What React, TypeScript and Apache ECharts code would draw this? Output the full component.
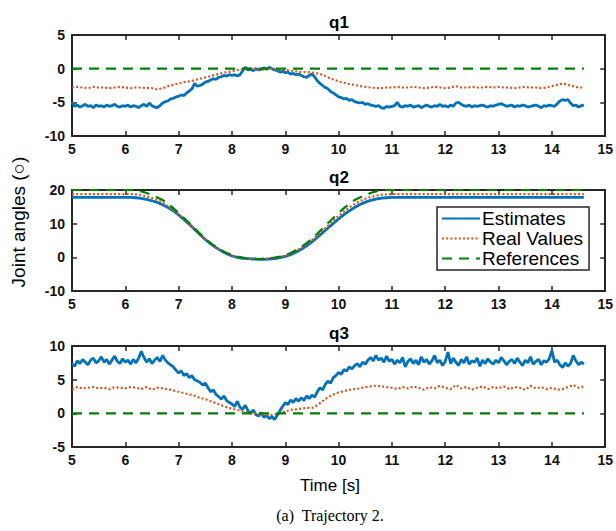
import React, { useEffect, useRef } from "react";
import * as echarts from "echarts";

// ---------- data ----------
const T_START = 5;
const FINE_STEP = 0.05; // sample spacing of the noisy estimate traces
const STEP = 0.1; // sample spacing of the other traces
const T_END = 14.6;

const seriesNames = ["Estimates", "Real Values", "References"];
const subplotTitles = ["q1", "q2", "q3"];
const xTickRange = [5, 15, 1];
const yRanges = [
  [-10, 5, 5],
  [-10, 20, 10],
  [-5, 10, 5],
];

// q1
const q1Estimates = [
  -5.0, -5.6, -5.4, -5.7, -5.5, -5.3, -5.6, -5.5, -5.8, -5.4, -5.6, -5.5, -5.7, -5.4, -5.6, -5.5, -5.3, -5.6, -5.7, -5.5,
  -5.6, -5.4, -5.7, -5.5, -5.6, -5.8, -5.5, -5.3, -5.6, -5.1, -5.5, -5.7, -5.8, -5.5, -5.1, -4.9, -4.8, -4.5, -4.4, -4.2,
  -4.1, -3.9, -4.0, -3.6, -3.3, -3.0, -2.2, -2.6, -2.5, -2.3, -2.0, -1.9, -1.7, -1.5, -1.6, -1.3, -1.2, -1.0, -1.1, -0.9,
  -1.0, -0.9, -1.1, -0.9, -0.3, 0.2, -0.2, -0.1, -0.3, 0.0, -0.2, -0.1, 0.1, -0.1, 0.2, 0.0, -0.2, -0.3, -0.5, -0.4,
  -0.6, -0.5, -0.8, -0.7, -0.9, -0.8, -1.0, -1.2, -1.3, -1.0, -0.8, -1.2, -1.8, -2.2, -2.5, -2.8, -3.0, -3.4, -3.6, -3.9,
  -4.2, -4.3, -4.5, -4.4, -4.7, -4.6, -4.9, -5.0, -5.1, -5.0, -5.3, -5.2, -5.4, -5.5, -5.6, -5.5, -5.8, -5.9, -5.6, -5.7,
  -5.6, -5.5, -5.0, -5.6, -5.7, -5.5, -5.6, -5.4, -5.7, -5.6, -5.5, -5.8, -5.6, -5.4, -5.6, -5.7, -5.5, -5.6, -5.3, -5.6,
  -5.5, -5.7, -5.4, -5.6, -5.1, -5.0, -5.3, -5.5, -5.6, -5.4, -5.7, -5.5, -5.6, -5.5, -5.4, -5.6, -5.7, -5.5, -5.6, -5.4,
  -5.3, -5.2, -5.4, -5.6, -5.5, -5.4, -5.7, -5.5, -5.6, -5.4, -5.5, -5.7, -5.6, -5.5, -5.4, -5.6, -5.8, -5.5, -5.6, -5.4,
  -5.5, -5.6, -5.2, -4.8, -4.6, -4.7, -4.6, -5.1, -5.5, -5.4, -5.7, -5.5, -5.4,
];
const q1Real = [
  -2.8, -2.7, -2.8, -2.9, -2.7, -2.8, -2.8, -2.9, -2.8, -2.7,
  -2.8, -2.9, -2.8, -2.8, -2.9, -2.9, -3.1, -2.9, -2.6, -2.4,
  -2.2, -2.0, -1.9, -1.7, -1.5, -1.3, -1.1, -0.9, -0.7, -0.5,
  -0.4, -0.2, -0.1, 0.0, 0.0, -0.1, -0.1, 0.0, -0.1, -0.2,
  -0.2, -0.3, -0.4, -0.5, -0.5, -0.6, -0.7, -0.9, -1.3, -1.6,
  -1.9, -2.1, -2.3, -2.4, -2.6, -2.7, -2.8, -2.9, -2.9, -2.8,
  -2.8, -2.7, -2.8, -2.8, -2.7, -2.8, -2.9, -2.8, -2.7, -2.8,
  -2.9, -2.8, -2.6, -2.8, -2.8, -2.7, -2.8, -2.8, -2.7, -2.8,
  -2.7, -2.8, -2.8, -2.9, -2.8, -2.7, -2.8, -2.8, -2.9, -2.8,
  -2.6, -2.4, -2.2, -2.4, -2.6, -2.8, -2.8,
];
const q1Reference = [0, 0];

// q2
const q2Estimates = [
  17.8, 17.8, 17.8, 17.8, 17.8, 17.8, 17.8, 17.8, 17.8, 17.8,
  17.8, 17.8, 17.7, 17.5, 17.2, 16.8, 16.3, 15.6, 14.8, 13.8,
  12.6, 11.2, 9.8, 8.3, 6.8, 5.3, 4.0, 2.9, 1.9, 1.1,
  0.4, 0.0, -0.3, -0.4, -0.5, -0.6, -0.6, -0.5, -0.4, -0.1,
  0.3, 0.8, 1.5, 2.4, 3.4, 4.6, 5.9, 7.3, 8.7, 10.1,
  11.4, 12.7, 13.8, 14.8, 15.7, 16.4, 16.9, 17.3, 17.6, 17.7,
  17.8, 17.8, 17.8, 17.8, 17.8, 17.8, 17.8, 17.8, 17.8, 17.8,
  17.8, 17.8, 17.8, 17.8, 17.8, 17.8, 17.8, 17.8, 17.8, 17.8,
  17.8, 17.8, 17.8, 17.8, 17.8, 17.8, 17.8, 17.8, 17.8, 17.8,
  17.8, 17.8, 17.8, 17.8, 17.8, 17.8, 17.8,
];
const q2Real = [
  18.8, 18.8, 18.8, 18.8, 18.8, 18.8, 18.8, 18.8, 18.8, 18.8,
  18.8, 18.8, 18.7, 18.5, 18.1, 17.6, 17.0, 16.2, 15.2, 14.0,
  12.7, 11.3, 9.8, 8.3, 6.8, 5.3, 4.0, 2.9, 2.0, 1.2,
  0.6, 0.1, -0.2, -0.4, -0.5, -0.5, -0.5, -0.4, -0.2, 0.1,
  0.5, 1.1, 1.9, 2.8, 3.9, 5.1, 6.5, 7.9, 9.4, 10.9,
  12.3, 13.6, 14.8, 15.8, 16.7, 17.4, 17.9, 18.3, 18.6, 18.7,
  18.8, 18.8, 18.8, 18.8, 18.8, 18.8, 18.8, 18.8, 18.8, 18.8,
  18.8, 18.8, 18.8, 18.8, 18.8, 18.8, 18.8, 18.8, 18.8, 18.8,
  18.8, 18.8, 18.8, 18.8, 18.8, 18.8, 18.8, 18.8, 18.8, 18.8,
  18.8, 18.8, 18.8, 18.8, 18.8, 18.8, 18.8,
];
const q2Reference = [
  20, 20, 20, 20, 20, 20, 20, 20, 20, 20,
  20, 20, 19.9, 19.6, 19.1, 18.5, 17.8, 17.0, 15.9, 14.6,
  13.2, 11.7, 10.2, 8.6, 7.0, 5.5, 4.2, 3.1, 2.1, 1.3,
  0.7, 0.2, -0.1, -0.3, -0.4, -0.5, -0.4, -0.3, -0.1, 0.2,
  0.7, 1.3, 2.1, 3.1, 4.2, 5.5, 7.0, 8.6, 10.2, 11.7,
  13.2, 14.6, 15.9, 17.0, 17.8, 18.5, 19.1, 19.6, 19.9, 20,
  20, 20, 20, 20, 20, 20, 20, 20, 20, 20,
  20, 20, 20, 20, 20, 20, 20, 20, 20, 20,
  20, 20, 20, 20, 20, 20, 20, 20, 20, 20,
  20, 20, 20, 20, 20, 20, 20,
];

// q3
const q3Estimates = [
  7.3, 7.0, 7.8, 7.4, 8.0, 7.6, 7.2, 7.9, 8.2, 7.5, 7.8, 8.4, 7.6, 8.0, 7.3, 7.9, 8.5, 7.7, 7.4, 8.1,
  7.6, 7.9, 7.3, 8.0, 7.5, 8.2, 9.2, 8.3, 7.6, 8.1, 7.4, 7.9, 8.3, 7.7, 8.6, 7.9, 7.5, 7.2, 6.9, 6.4,
  6.0, 6.3, 5.6, 5.9, 5.3, 5.6, 5.0, 4.8, 4.6, 4.2, 4.5, 3.8, 3.2, 3.5, 2.8, 2.5, 2.1, 2.6, 1.9, 1.6,
  1.4, 1.0, 1.8, 0.9, 0.6, 1.2, 0.4, 0.0, 0.5, -0.2, -0.4, 0.1, -0.6, -0.3, -0.8, -0.5, -0.9, -0.3, 0.4, 1.0,
  1.6, 1.3, 2.0, 1.6, 2.2, 1.8, 2.3, 1.9, 2.6, 2.2, 2.7, 2.4, 3.2, 3.8, 3.5, 4.3, 4.8, 4.5, 5.3, 5.6,
  6.1, 5.8, 6.5, 6.3, 6.9, 6.6, 7.1, 7.4, 6.9, 7.6, 7.3, 7.9, 8.3, 7.8, 8.6, 7.9, 8.2, 7.6, 8.5, 7.7,
  8.0, 7.3, 7.9, 7.5, 8.3, 6.9, 7.7, 8.1, 7.4, 7.9, 7.2, 8.4, 7.6, 8.0, 7.3, 7.8, 8.6, 7.5, 7.9, 7.1,
  7.7, 9.1, 7.4, 8.2, 7.6, 7.1, 8.0, 7.5, 8.4, 7.3, 7.8, 7.6, 8.2, 7.0, 7.9, 7.4, 8.1, 7.6, 7.3, 7.9,
  7.5, 8.3, 7.8, 7.2, 7.7, 8.0, 7.4, 8.2, 7.6, 7.1, 7.9, 7.5, 8.4, 7.3, 7.7, 8.0, 7.2, 7.8, 7.6, 8.1,
  9.3, 7.6, 7.9, 7.2, 6.8, 7.5, 7.0, 7.4, 8.6, 7.8, 7.2, 7.6, 7.3,
];
const q3Real = [
  3.5, 3.9, 3.7, 3.8, 3.9, 3.7, 3.8, 3.6, 3.9, 3.8,
  3.7, 3.9, 3.8, 3.6, 3.9, 3.5, 3.8, 3.7, 3.6, 3.4,
  3.2, 3.0, 2.8, 2.6, 2.3, 2.1, 1.8, 1.5, 1.2, 0.9,
  0.7, 0.5, 0.3, 0.1, 0.0, -0.1, -0.2, -0.3, -0.2, 0.0,
  0.3, 0.5, 0.6, 0.7, 0.8, 0.8, 1.2, 1.8, 2.4, 2.8,
  3.1, 3.3, 3.5, 3.6, 3.7, 3.9, 4.0, 4.1, 4.0, 3.9,
  3.8, 3.6, 3.9, 3.7, 4.0, 3.8, 3.5, 3.9, 3.7, 4.1,
  3.8, 3.6, 4.2, 3.7, 3.9, 3.5, 3.8, 4.0, 3.6, 3.9,
  3.7, 4.0, 3.6, 3.9, 3.8, 3.5, 4.1, 3.7, 3.9, 3.6,
  3.8, 3.5, 3.6, 3.9, 4.2, 3.8, 4.0,
];
const q3Reference = [0, 0];

// ---------- styling ----------
const SANS = "'Liberation Sans', Arial, Helvetica, sans-serif";
const SERIF = "'Liberation Serif', 'Times New Roman', serif";
const AXIS_COLOR = "#262626";
const COLORS = ["#0072BD", "#D95319", "#008000"];
const GRID_TOPS = [35, 190, 346];
const GRID_LEFT = 72;
const GRID_W = 534;
const GRID_H = 101;

function sampled(values: number[], step: number) {
  return values.map((v, i) => [Number((T_START + i * step).toFixed(2)), v]);
}
function flat(values: number[]) {
  return [
    [T_START, values[0]],
    [T_END, values[1]],
  ];
}

export default function App() {
  const ref = useRef<HTMLDivElement>(null);

  useEffect(() => {
    if (!ref.current) return;
    const chart = echarts.init(ref.current, undefined, { renderer: "svg" });

    const estimates = [q1Estimates, q2Estimates, q3Estimates];
    const reals = [q1Real, q2Real, q3Real];
    const refs = [q1Reference, q2Reference, q3Reference];

    const axisLine = { show: true, onZero: false, lineStyle: { color: AXIS_COLOR, width: 2 } };
    const axisTick = { show: true, inside: true, length: 5, lineStyle: { color: AXIS_COLOR, width: 1.5 } };
    const labelStyle = { fontSize: 14, fontWeight: "bold", color: "#111", fontFamily: SANS };

    const xAxis: any[] = [];
    const yAxis: any[] = [];
    const series: any[] = [];
    for (let i = 0; i < 3; i++) {
      xAxis.push({
        type: "value", gridIndex: i, position: "bottom",
        min: xTickRange[0], max: xTickRange[1], interval: xTickRange[2],
        axisLine, axisTick, splitLine: { show: false },
        axisLabel: { ...labelStyle, margin: 6 },
      });
      xAxis.push({
        type: "value", gridIndex: i, position: "top",
        min: xTickRange[0], max: xTickRange[1], interval: xTickRange[2],
        axisLine, axisTick, splitLine: { show: false },
        axisLabel: { show: false },
      });
      const [ymin, ymax, yint] = yRanges[i];
      yAxis.push({
        type: "value", gridIndex: i, position: "left",
        min: ymin, max: ymax, interval: yint,
        axisLine, axisTick, splitLine: { show: false },
        axisLabel: { ...labelStyle, margin: 7 },
      });
      yAxis.push({
        type: "value", gridIndex: i, position: "right",
        min: ymin, max: ymax, interval: yint,
        axisLine, axisTick, splitLine: { show: false },
        axisLabel: { show: false },
      });
      series.push({
        name: seriesNames[0], type: "line", xAxisIndex: 2 * i, yAxisIndex: 2 * i,
        data: sampled(estimates[i], i === 1 ? STEP : FINE_STEP),
        symbol: "none", color: COLORS[0],
        lineStyle: { color: COLORS[0], width: 2.8 },
      });
      series.push({
        name: seriesNames[1], type: "line", xAxisIndex: 2 * i, yAxisIndex: 2 * i,
        data: sampled(reals[i], STEP),
        symbol: "none", color: COLORS[1],
        lineStyle: { color: COLORS[1], width: 2.2, type: [2, 2.2] },
      });
      series.push({
        name: seriesNames[2], type: "line", xAxisIndex: 2 * i, yAxisIndex: 2 * i,
        data: refs[i].length === 2 ? flat(refs[i]) : sampled(refs[i], STEP),
        symbol: "none", color: COLORS[2],
        lineStyle: { color: COLORS[2], width: 2.2, type: [10, 7] },
      });
    }

    const centerX = GRID_LEFT + GRID_W / 2;
    const graphics: any[] = subplotTitles.map((t, i) => ({
      type: "text", x: centerX, y: GRID_TOPS[i] - 13,
      style: { text: t, fontSize: 17, fontWeight: "bold", fontFamily: SANS, fill: "#000", align: "center", verticalAlign: "middle" },
    }));
    graphics.push({
      type: "text", x: 330, y: 485,
      style: { text: "Time [s]", fontSize: 17, fontFamily: SANS, fill: "#000", align: "center", verticalAlign: "middle" },
    });
    graphics.push({
      type: "text", x: 18, y: 222, rotation: Math.PI / 2,
      style: { text: "Joint angles (○)", fontSize: 19, fontFamily: SANS, fill: "#000", align: "center", verticalAlign: "middle" },
    });
    graphics.push({
      type: "text", x: 330, y: 515,
      style: { text: "(a)  Trajectory 2.", fontSize: 16, fontFamily: SERIF, fill: "#000", align: "center", verticalAlign: "middle" },
    });

    chart.setOption({
      animation: false,
      backgroundColor: "#fff",
      grid: GRID_TOPS.map((top) => ({ left: GRID_LEFT, top, width: GRID_W, height: GRID_H })),
      xAxis,
      yAxis,
      series,
      legend: {
        data: seriesNames,
        orient: "vertical",
        left: 437,
        top: 207,
        itemWidth: 38,
        itemHeight: 12,
        itemGap: 1,
        padding: [2, 6, 2, 4],
        borderColor: AXIS_COLOR,
        borderWidth: 1.5,
        backgroundColor: "#fff",
        itemStyle: { opacity: 0 },
        textStyle: { fontSize: 19, fontFamily: SANS, color: "#000", padding: [0, 0, 0, -3] },
        z: 10,
      },
      graphic: graphics,
    });

    return () => chart.dispose();
  }, []);

  return (
    <div
      ref={ref}
      style={{ position: "absolute", left: 0, top: 0, width: 616, height: 531 }}
    />
  );
}
